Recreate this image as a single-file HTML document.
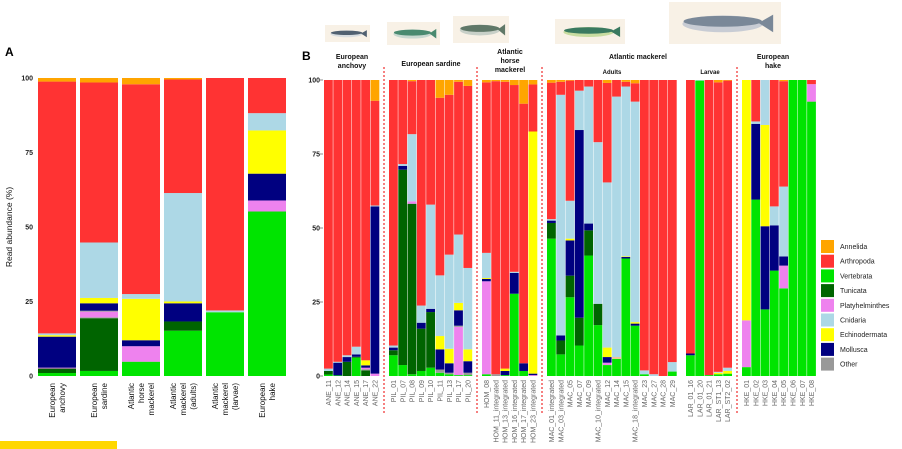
<!DOCTYPE html>
<html><head><meta charset="utf-8"><style>
html,body{margin:0;padding:0;background:#fff;width:902px;height:449px;overflow:hidden}
svg{display:block;font-family:"Liberation Sans",Arial,sans-serif}
</style></head><body>
<svg id="s" width="902" height="449" viewBox="0 0 902 449" xmlns="http://www.w3.org/2000/svg"></svg>
<script>
const C={G:'#00e400',DG:'#006400',V:'#ee82ee',N:'#000080',Y:'#ffff00',LB:'#add8e6',R:'#ff3333',O:'#ffa500',Gr:'#999999',P:'#f4c090'};
const s=document.getElementById('s');let h='';
function rect(x,y,w,hh,c){h+=`<rect x="${x.toFixed(2)}" y="${y.toFixed(2)}" width="${w.toFixed(2)}" height="${Math.max(0,hh).toFixed(2)}" fill="${c}"/>`;}
function bar(x,w,segs,y0,sc){let prev=0;for(const [c,t] of segs){rect(x,y0-t*sc,w,(t-prev)*sc,C[c]);prev=t;}}
// fish images (approximate)
function fish(x,y,w,hh,body,belly){h+=`<rect x="${x}" y="${y}" width="${w}" height="${hh}" fill="#f8f1e6"/>`;
h+=`<ellipse cx="${x+w*0.48}" cy="${y+hh*0.52}" rx="${w*0.36}" ry="${hh*0.2}" fill="${belly}"/>`;
h+=`<ellipse cx="${x+w*0.48}" cy="${y+hh*0.46}" rx="${w*0.35}" ry="${hh*0.13}" fill="${body}"/>`;
h+=`<polygon points="${x+w*0.8},${y+hh*0.5} ${x+w*0.93},${y+hh*0.3} ${x+w*0.93},${y+hh*0.72}" fill="${body}"/>`;}
fish(325,25,45,17,'#506070','#d8dde0');fish(387,22,53,23,'#4a8a70','#c8d8d0');fish(453,16,56,27,'#607868','#c8d0c8');
fish(555,19,70,25,'#3a7a60','#c8dca0');fish(669,2,112,42,'#7a8898','#c8ccd4');
// Panel A
const A=[
[['G',1],['DG',2.5],['V',2.8],['N',13.2],['Y',13.7],['LB',14.3],['R',98.8],['O',100]],
[['G',1.7],['DG',19.4],['Gr',19.7],['V',21.6],['Gr',21.9],['N',24.4],['Y',26.2],['LB',44.8],['R',98.5],['O',100]],
[['G',4.8],['V',10],['N',12],['Y',25.9],['LB',27.5],['R',97.9],['O',100]],
[['G',15.2],['DG',18.3],['N',24.4],['Y',25],['LB',61.4],['R',99.5],['O',100]],
[['G',21.4],['LB',22],['R',100]],
[['G',55.2],['V',58.9],['N',67.9],['Y',82.4],['LB',88.2],['R',100]]];
const AX=[38,80,122,164,206,248];
A.forEach((b,i)=>bar(AX[i],38,b,376,2.98));
[0,25,50,75,100].forEach(v=>{const y=376-v*2.98;h+=`<text x="33" y="${y+2.5}" font-size="7" font-weight="bold" text-anchor="end" fill="#222">${v}</text>`;});
h+=`<text transform="translate(12,227) rotate(-90)" font-size="8.5" text-anchor="middle" fill="#111">Read abundance (%)</text>`;
h+=`<text x="5" y="56" font-size="12" font-weight="bold">A</text>`;
const AL=[['European','anchovy'],['European','sardine'],['Atlantic','horse','mackerel'],['Atlantic','mackerel','(adults)'],['Atlantic','mackerel','(larvae)'],['European','hake']];
AL.forEach((ls,i)=>{const cx=AX[i]+19;const n=ls.length;ls.forEach((t,j)=>{const x=cx+(j-(n-1)/2)*10+3;h+=`<text transform="translate(${x},383) rotate(-90)" font-size="8" text-anchor="end" fill="#111">${t}</text>`;});});
rect(0,441,117,8,'#ffd700');
// Panel B
h+=`<text x="302" y="60" font-size="12" font-weight="bold">B</text>`;
[0,25,50,75,100].forEach(v=>{const y=376-v*2.96;h+=`<text x="320" y="${y+2.5}" font-size="7" font-weight="bold" text-anchor="end" fill="#222">${v}</text><line x1="320" x2="323" y1="${y}" y2="${y}" stroke="#444" stroke-width="0.6"/>`;});
const B=[
['ANE_11',324,[['G',0.5],['DG',1.7],['LB',2.5],['R',100]]],
['ANE_12',333.3,[['G',0.2],['N',4.5],['LB',4.8],['R',100]]],
['ANE_14',342.6,[['DG',4.8],['N',6.4],['LB',7],['R',100]]],
['ANE_15',351.9,[['G',6.2],['DG',6.5],['N',7.3],['LB',9.9],['R',100]]],
['ANE_17',361.2,[['DG',1.9],['Gr',2.3],['V',2.8],['N',3.6],['Y',5.3],['R',100]]],
['ANE_22',370.5,[['V',0.8],['N',57.3],['LB',57.6],['R',93],['O',100]]],
['PIL_01',389,[['G',7],['DG',8.7],['N',9.6],['LB',10.3],['R',100]]],
['PIL_07',398.3,[['G',3.7],['DG',69.7],['N',71],['LB',71.6],['R',100]]],
['PIL_08',407.6,[['G',0.6],['DG',58.2],['V',59],['LB',81.7],['R',99.6],['O',100]]],
['PIL_09',416.9,[['G',1.7],['DG',16],['N',18],['LB',23.8],['R',100]]],
['PIL_10',426.2,[['G',2.8],['DG',21.6],['N',22.7],['LB',57.9],['R',100]]],
['PIL_11',435.5,[['G',1.1],['Gr',2.2],['N',9],['Y',13.5],['LB',34],['R',94],['O',100]]],
['PIL_13',444.8,[['G',0.6],['Gr',1.1],['N',4.3],['Y',9.2],['LB',41],['R',95],['O',100]]],
['PIL_17',454.1,[['G',0.3],['V',16.6],['Gr',17],['N',22.2],['Y',24.7],['LB',47.8],['R',99.4],['O',100]]],
['PIL_20',463.4,[['G',0.3],['Gr',1.1],['N',5],['Y',9],['LB',36.5],['R',98],['O',100]]],
['HOM_08',482,[['G',0.6],['V',32],['N',32.8],['Y',33.1],['LB',41.6],['R',99.2],['O',100]]],
['HOM_11_integrated',491.3,[['Gr',0.6],['R',99.6],['O',100]]],
['HOM_13_integrated',500.6,[['G',0.3],['N',1.7],['Y',2.5],['R',99.4],['O',100]]],
['HOM_16_integrated',509.9,[['G',27.8],['N',34.8],['LB',35.2],['R',98.3],['O',100]]],
['HOM_17_integrated',519.2,[['G',1.7],['N',4.3],['R',92],['O',100]]],
['HOM_23_integrated',528.5,[['V',0.3],['N',0.8],['Y',82.6],['R',98.5],['O',100]]],
['MAC_01_integrated',547,[['G',46.4],['DG',51.7],['N',52.5],['LB',53],['R',99.1],['O',100]]],
['MAC_03_integrated',556.3,[['G',7.3],['DG',12],['N',13.7],['LB',95],['R',99.4],['O',100]]],
['MAC_05',565.6,[['G',26.6],['DG',33.9],['N',45.8],['Y',46.4],['LB',59.2],['R',99.8],['O',100]]],
['MAC_07',574.9,[['G',10.3],['DG',19.7],['N',83.1],['LB',96.4],['R',100]]],
['MAC_09',584.2,[['G',40.7],['DG',49.2],['N',51.5],['LB',97.8],['R',100]]],
['MAC_10_integrated',593.5,[['G',17.2],['DG',24.4],['LB',79],['R',100]]],
['MAC_12',602.8,[['G',3.7],['V',4.5],['N',6.4],['Y',9.6],['LB',65.4],['R',99],['O',100]]],
['MAC_14',612.1,[['G',5.8],['P',6.4],['LB',94.4],['R',100]]],
['MAC_15',621.4,[['G',39.7],['N',40.2],['Y',40.4],['LB',97.8],['R',99.4],['O',100]]],
['MAC_18_integrated',630.7,[['G',17],['N',17.7],['Y',18.2],['LB',92.7],['R',98.9],['O',100]]],
['MAC_23',640,[['G',0.6],['LB',1.9],['R',100]]],
['MAC_27',649.3,[['LB',0.6],['R',100]]],
['MAC_28',658.6,[['R',100]]],
['MAC_29',667.9,[['G',1.5],['LB',4.7],['R',100]]],
['LAR_01_16',686,[['G',7],['N',7.6],['R',100]]],
['LAR_01_20',695.3,[['G',99.8],['LB',100]]],
['LAR_01_21',704.6,[['G',0.3],['R',100]]],
['LAR_ST1_13',713.9,[['G',0.6],['Y',1.1],['LB',1.4],['R',99.2],['O',100]]],
['LAR_ST2_02',723.2,[['G',0.8],['Y',1.7],['LB',2.8],['R',99.8],['O',100]]],
['HKE_01',742,[['G',3],['V',18.8],['Y',100]]],
['HKE_02',751.3,[['G',59.6],['N',85.2],['LB',86],['R',100]]],
['HKE_03',760.6,[['G',22.5],['N',50.6],['Y',84.8],['LB',100]]],
['HKE_04',769.9,[['G',35.6],['N',50.9],['LB',57.3],['R',100]]],
['HKE_05',779.2,[['G',29.6],['V',37.3],['N',40.4],['LB',64],['R',99.6],['O',100]]],
['HKE_06',788.5,[['G',100]]],
['HKE_07',797.8,[['G',100]]],
['HKE_08',807.1,[['G',92.7],['V',98.6],['R',100]]]];
B.forEach(([n,x,sg])=>{bar(x,8.8,sg,376,2.96);h+=`<text transform="translate(${x+7},380) rotate(-90)" font-size="7" text-anchor="end" fill="#666">${n}</text>`;});
[384,477,542,737].forEach(x=>{h+=`<line x1="${x}" x2="${x}" y1="67" y2="415" stroke="#e00" stroke-width="1" stroke-dasharray="2,2"/>`;});
function t(x,y,txt,fs){h+=`<text x="${x}" y="${y}" font-size="${fs||7}" font-weight="bold" text-anchor="middle" fill="#111">${txt}</text>`;}
t(352,59,'European');t(352,68,'anchovy');t(431,66,'European sardine');
t(510,54,'Atlantic');t(510,63,'horse');t(510,72,'mackerel');
t(638,59,'Atlantic mackerel');t(612,74,'Adults',6);t(710,74,'Larvae',6);
t(773,59,'European');t(773,68,'hake');
const L=[['O','Annelida'],['R','Arthropoda'],['G','Vertebrata'],['DG','Tunicata'],['V','Platyhelminthes'],['LB','Cnidaria'],['Y','Echinodermata'],['N','Mollusca'],['Gr','Other']];
L.forEach(([c,n],i)=>{const y=240+i*14.7;rect(821,y,13,13,C[c]);h+=`<text x="840" y="${y+9}" font-size="7" fill="#222">${n}</text>`;});
s.innerHTML=h;
</script>
</body></html>
